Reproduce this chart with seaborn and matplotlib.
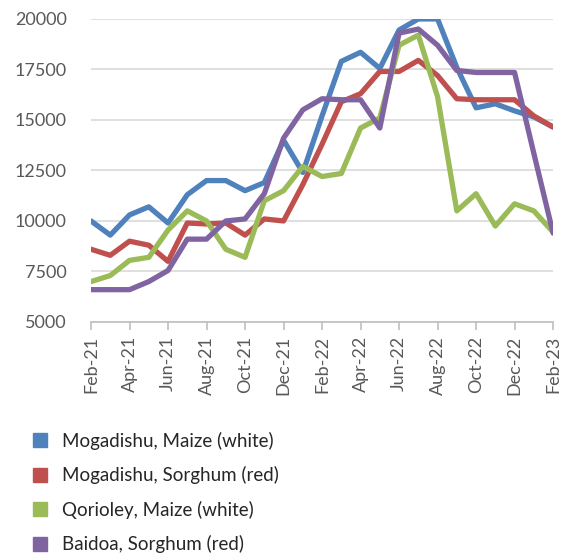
import pandas as pd
import matplotlib.pyplot as plt
import seaborn as sns
from matplotlib.lines import Line2D

months = ['Feb-21', 'Mar-21', 'Apr-21', 'May-21', 'Jun-21', 'Jul-21', 'Aug-21', 'Sep-21',
          'Oct-21', 'Nov-21', 'Dec-21', 'Jan-22', 'Feb-22', 'Mar-22', 'Apr-22', 'May-22',
          'Jun-22', 'Jul-22', 'Aug-22', 'Sep-22', 'Oct-22', 'Nov-22', 'Dec-22', 'Jan-23',
          'Feb-23']

mog_maize = [10000, 9300, 10300, 10700, 9900, 11300, 12000, 12000, 11500, 11900, 14000, 12400,
             15200, 17900, 18350, 17550, 19450, 20000, 20000, 17600, 15600, 15800, 15450, 15150,
             14650]
mog_sorghum = [8600, 8300, 9000, 8800, 8000, 9900, 9850, 9900, 9300, 10100, 10000, 11800,
               13800, 15900, 16300, 17400, 17400, 17950, 17200, 16050, 16000, 16000, 16000, 15200,
               14650]
qor_maize = [7000, 7300, 8050, 8200, 9550, 10500, 10000, 8600, 8200, 11000, 11500, 12700,
             12200, 12350, 14600, 15100, 18700, 19200, 16150, 10500, 11350, 9750, 10850, 10500,
             9450]
bai_sorghum = [6600, 6600, 6600, 7000, 7550, 9100, 9100, 10000, 10100, 11350, 14100, 15500,
               16050, 16000, 16000, 14600, 19300, 19500, 18700, 17450, 17350, 17350, 17350, 13350,
               9400]

series = ['Mogadishu, Maize (white)', 'Mogadishu, Sorghum (red)',
          'Qorioley, Maize (white)', 'Baidoa, Sorghum (red)']
colors = ['#4F81BD', '#C0504D', '#9BBB59', '#8064A2']

df = pd.DataFrame({'month': months, series[0]: mog_maize, series[1]: mog_sorghum,
                   series[2]: qor_maize, series[3]: bai_sorghum})
df['pos'] = range(len(months))
long = df.melt(id_vars=['month', 'pos'], var_name='series', value_name='price')

sns.set_style('white')
plt.rcParams['font.family'] = ['Lato', 'DejaVu Sans']

fig = plt.figure(figsize=(5.69, 5.54), dpi=100)
ax = fig.add_axes([0.16, 0.4188, 0.812, 0.547])

sns.lineplot(data=long, x='pos', y='price', hue='series', hue_order=series,
             palette=colors, linewidth=3.8, legend=False, ax=ax)

ax.set_xlim(0, len(months) - 1)
ax.set_ylim(5000, 20000)
ax.set_yticks(range(5000, 20001, 2500))
ax.set_xticks(df['pos'][::2])
ax.set_xticklabels(df['month'][::2], rotation=90)
ax.set_xlabel('')
ax.set_ylabel('')
ax.yaxis.grid(True, color='#D9D9D9', linewidth=1.2)
ax.set_axisbelow(True)
for s in ['left', 'right', 'top']:
    ax.spines[s].set_visible(False)
ax.spines['bottom'].set_color('#BFBFBF')
ax.spines['bottom'].set_linewidth(1.2)
ax.tick_params(axis='x', bottom=True, length=6, color='#BFBFBF', width=1.2,
               labelsize=13, labelcolor='#595959', pad=4)
ax.tick_params(axis='y', left=False, labelsize=13, labelcolor='#595959', pad=14)

handles = [Line2D([0], [0], marker='s', linestyle='none', markersize=10.5,
                  markerfacecolor=c, markeredgecolor=c) for c in colors]
fig.legend(handles, series, loc='upper left', bbox_to_anchor=(0.054, 0.221),
           frameon=False, fontsize=13.5, labelspacing=0.88, handlelength=1.0,
           handletextpad=0.67, borderpad=0, borderaxespad=0,
           labelcolor='#262626')

fig.savefig('out.png', dpi=100)
